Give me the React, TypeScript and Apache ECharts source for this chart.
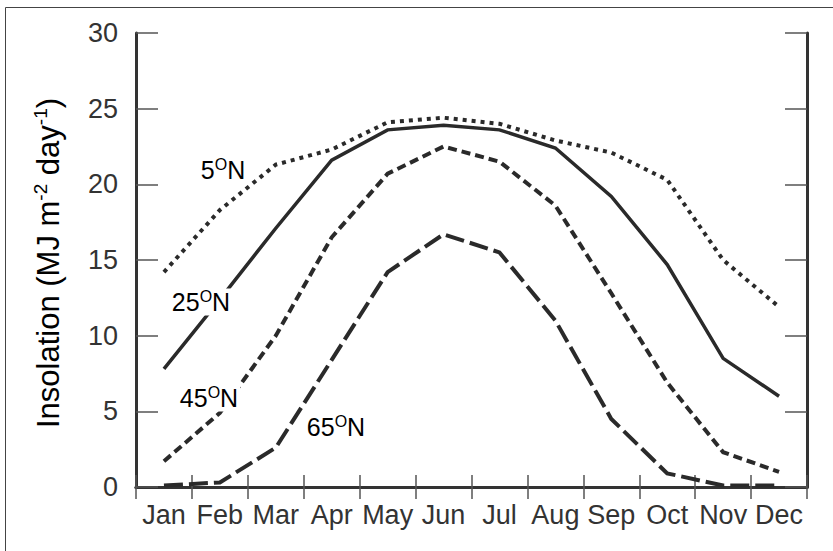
import React, { useEffect, useRef } from "react";
import * as echarts from "echarts";

const months = ["Jan", "Feb", "Mar", "Apr", "May", "Jun", "Jul", "Aug", "Sep", "Oct", "Nov", "Dec"];
const lat5N = [14.2, 18.3, 21.3, 22.3, 24.1, 24.4, 24.0, 22.9, 22.1, 20.3, 15.0, 11.9];
const lat25N = [7.8, 12.4, 17.1, 21.6, 23.6, 23.9, 23.6, 22.4, 19.2, 14.7, 8.5, 6.0];
const lat45N = [1.7, 4.9, 10.0, 16.5, 20.7, 22.5, 21.5, 18.6, 12.8, 6.9, 2.3, 1.0];
const lat65N = [0.1, 0.3, 2.6, 8.4, 14.2, 16.7, 15.5, 11.0, 4.5, 0.9, 0.1, 0.1];
const yTicks = [0, 5, 10, 15, 20, 25, 30];

const FONT = "Liberation Sans, Arial, Helvetica, sans-serif";
const INK = "#2a2a2a";

export default function App() {
  const ref = useRef<HTMLDivElement>(null);
  useEffect(() => {
    if (!ref.current) return;
    const chart = echarts.init(ref.current, null, { renderer: "svg" });
    const supRich = {
      b: { fontSize: 25, fontFamily: FONT, color: INK, lineHeight: 27 },
      s: { fontSize: 16, fontFamily: FONT, color: INK, lineHeight: 14, verticalAlign: "top" },
    };
    const latLabel = (x: number, y: number, num: string) => ({
      type: "text",
      x,
      y,
      z: 100,
      style: {
        text: `{b|${num}}{s|O}{b|N}`,
        rich: supRich,
        align: "center",
        verticalAlign: "middle",
        backgroundColor: "#fff",
        padding: [0, 2, 0, 2],
      },
    });
    const lineSeries = (name: string, data: number[], type: any, width: number) => ({
      name,
      type: "line",
      data,
      showSymbol: false,
      symbol: "none",
      lineStyle: { color: INK, width, type, cap: "butt", join: "miter" },
      z: 3,
    });
    chart.setOption({
      animation: false,
      backgroundColor: "#fff",
      grid: { left: 136, top: 33, right: 26, bottom: 64, show: false },
      xAxis: [
        {
          type: "category",
          data: months,
          boundaryGap: true,
          position: "bottom",
          axisLine: { show: true, lineStyle: { color: "#333", width: 3 } },
          axisTick: { show: true, inside: true, length: 12, lineStyle: { color: "#555", width: 1.5 } },
          axisLabel: { color: "#333", fontSize: 27, fontFamily: FONT, margin: 14, interval: 0 },
          splitLine: { show: false },
        },
        {
          type: "category",
          data: months,
          boundaryGap: true,
          position: "top",
          axisLine: { show: true, lineStyle: { color: "#333", width: 3 } },
          axisTick: { show: true, inside: true, length: 12, lineStyle: { color: "#555", width: 1.5 } },
          axisLabel: { show: false },
          splitLine: { show: false },
        },
      ],
      yAxis: [
        {
          type: "value",
          min: yTicks[0],
          max: yTicks[yTicks.length - 1],
          interval: 5,
          position: "left",
          axisLine: { show: true, lineStyle: { color: "#333", width: 3 } },
          axisTick: { show: true, inside: true, length: 22, lineStyle: { color: "#555", width: 1.5 } },
          axisLabel: { color: "#333", fontSize: 27, fontFamily: FONT, margin: 18 },
          splitLine: { show: false },
        },
        {
          type: "value",
          min: yTicks[0],
          max: yTicks[yTicks.length - 1],
          interval: 5,
          position: "right",
          axisLine: { show: true, lineStyle: { color: "#333", width: 3 } },
          axisTick: { show: true, inside: true, length: 22, lineStyle: { color: "#555", width: 1.5 } },
          axisLabel: { show: false },
          splitLine: { show: false },
        },
      ],
      series: [
        lineSeries("5°N", lat5N, [4, 5], 4),
        lineSeries("25°N", lat25N, "solid", 3.5),
        lineSeries("45°N", lat45N, [9, 5], 4),
        lineSeries("65°N", lat65N, [19, 6], 4),
      ],
      graphic: [
        {
          type: "rect",
          shape: { x: 5.5, y: 7.5, width: 900, height: 700 },
          style: { fill: "none", stroke: "#444", lineWidth: 1 },
          z: 0,
          silent: true,
        },
        {
          type: "text",
          x: 48,
          y: 263,
          rotation: Math.PI / 2,
          style: {
            text: "{b|Insolation (MJ m}{s|-2}{b| day}{s|-1}{b|)}",
            rich: {
              b: { fontSize: 31, fontFamily: FONT, color: "#333", lineHeight: 34 },
              s: { fontSize: 19, fontFamily: FONT, color: "#333", lineHeight: 19, verticalAlign: "top" },
            },
            align: "center",
            verticalAlign: "middle",
          },
        },
        latLabel(223, 170, "5"),
        latLabel(201, 302, "25"),
        latLabel(209, 398, "45"),
        latLabel(336, 427, "65"),
      ],
    });
    return () => chart.dispose();
  }, []);
  return (
    <div
      ref={ref}
      style={{ position: "fixed", left: 0, top: 0, width: 833, height: 551, background: "#fff" }}
    />
  );
}
